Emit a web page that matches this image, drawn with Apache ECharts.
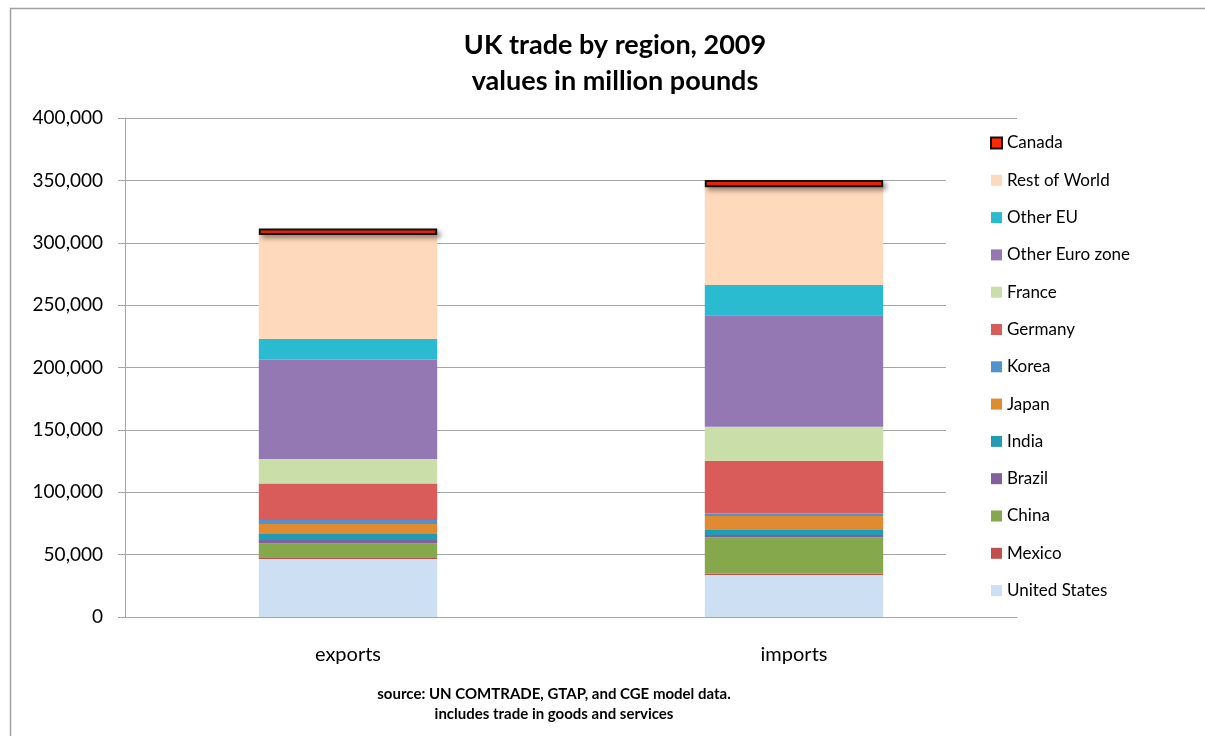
<!DOCTYPE html>
<html>
<head>
<meta charset="utf-8">
<title>UK trade by region, 2009</title>
<script src="https://cdn.jsdelivr.net/npm/echarts@6/dist/echarts.min.js"></script>
<style>
  html, body { margin: 0; padding: 0; background: #fff; }
  #chart { width: 1205px; height: 736px; }
</style>
</head>
<body>
<div id="chart"></div>
<script>
// UK trade by region, 2009 (million pounds), stacked from the bottom up
const categories = ['exports', 'imports'];

const unitedStates = [46500, 33600];
const mexico       = [1300, 1300];
const china        = [11200, 28900];
const brazil       = [2700, 1900];
const india        = [4800, 4000];
const japan        = [8000, 11200];
const korea        = [3200, 2100];
const germany      = [29400, 42200];
const france       = [19500, 27300];
const otherEuro    = [79600, 89300];
const otherEU      = [16600, 24300];
const restOfWorld  = [83400, 78300];
const canada       = [5300, 5900];

const yTicks = { min: 0, max: 400000, interval: 50000 };

const FONT = 'Lato, "Open Sans", sans-serif';

const seriesDefs = [
  { name: 'United States',   data: unitedStates, color: '#cddff3' },
  { name: 'Mexico',          data: mexico,       color: '#c0504d' },
  { name: 'China',           data: china,        color: '#84a84b' },
  { name: 'Brazil',          data: brazil,       color: '#80609f' },
  { name: 'India',           data: india,        color: '#209db5' },
  { name: 'Japan',           data: japan,        color: '#e08a32' },
  { name: 'Korea',           data: korea,        color: '#4f92cd' },
  { name: 'Germany',         data: germany,      color: '#d95c5a' },
  { name: 'France',          data: france,       color: '#c9dea8' },
  { name: 'Other Euro zone', data: otherEuro,    color: '#9378b4' },
  { name: 'Other EU',        data: otherEU,      color: '#2bbbd1' },
  { name: 'Rest of World',   data: restOfWorld,  color: '#fed9bc' },
  { name: 'Canada',          data: canada,       color: '#ff2a00' }
];

const series = seriesDefs.map(s => {
  const style = { color: s.color };
  if (s.name === 'Canada') {
    Object.assign(style, {
      borderColor: '#111',
      borderWidth: 2,
      shadowColor: 'rgba(0,0,0,0.35)',
      shadowBlur: 5,
      shadowOffsetX: 3,
      shadowOffsetY: 3
    });
  }
  return {
    name: s.name,
    type: 'bar',
    stack: 'trade',
    barWidth: '40%',
    data: s.data,
    itemStyle: style,
    emphasis: { disabled: true }
  };
});

const chart = echarts.init(document.getElementById('chart'));
chart.setOption({
  animation: false,
  backgroundColor: '#fff',
  title: [
    {
      text: 'UK trade by region, 2009\nvalues in million pounds',
      left: 610, top: 22, textAlign: 'center',
      textStyle: { fontFamily: FONT, fontSize: 27, fontWeight: 'bold', color: '#000', lineHeight: 36 }
    },
    {
      text: 'source: UN COMTRADE, GTAP, and CGE model data.\nincludes trade in goods and services',
      left: 549, top: 679, textAlign: 'center',
      textStyle: { fontFamily: FONT, fontSize: 15, fontWeight: 'bold', color: '#000', lineHeight: 20 }
    }
  ],
  legend: {
    orient: 'vertical',
    left: 946,
    top: 122,
    padding: [11, 20, 10, 44],
    backgroundColor: '#fff',
    itemWidth: 11,
    itemHeight: 11,
    itemGap: 17.3,
    icon: 'rect',
    data: seriesDefs.map(s => s.name).reverse(),
    textStyle: { fontFamily: FONT, fontSize: 17, color: '#000', lineHeight: 20 },
    selectedMode: false
  },
  grid: { left: 125, right: 188, top: 118, bottom: 119, containLabel: false },
  xAxis: {
    type: 'category',
    data: categories,
    axisLine: { lineStyle: { color: '#a6a6a6', width: 1 } },
    axisTick: { length: 6, lineStyle: { color: '#a6a6a6' } },
    axisLabel: { fontFamily: FONT, fontSize: 20, color: '#000', margin: 28 }
  },
  yAxis: {
    type: 'value',
    min: yTicks.min, max: yTicks.max, interval: yTicks.interval,
    axisLine: { show: true, lineStyle: { color: '#a6a6a6', width: 1 } },
    axisTick: { show: true, length: 7, lineStyle: { color: '#a6a6a6' } },
    splitLine: { lineStyle: { color: '#a6a6a6', width: 1 } },
    axisLabel: { fontFamily: FONT, fontSize: 19, color: '#000', margin: 22 }
  },
  graphic: [
    {
      type: 'rect',
      shape: { x: 10.5, y: 8.5, width: 1300, height: 800 },
      style: { fill: 'none', stroke: '#a0a0a0', lineWidth: 1.5 },
      silent: true
    }
  ],
  series: series
});
</script>
</body>
</html>
